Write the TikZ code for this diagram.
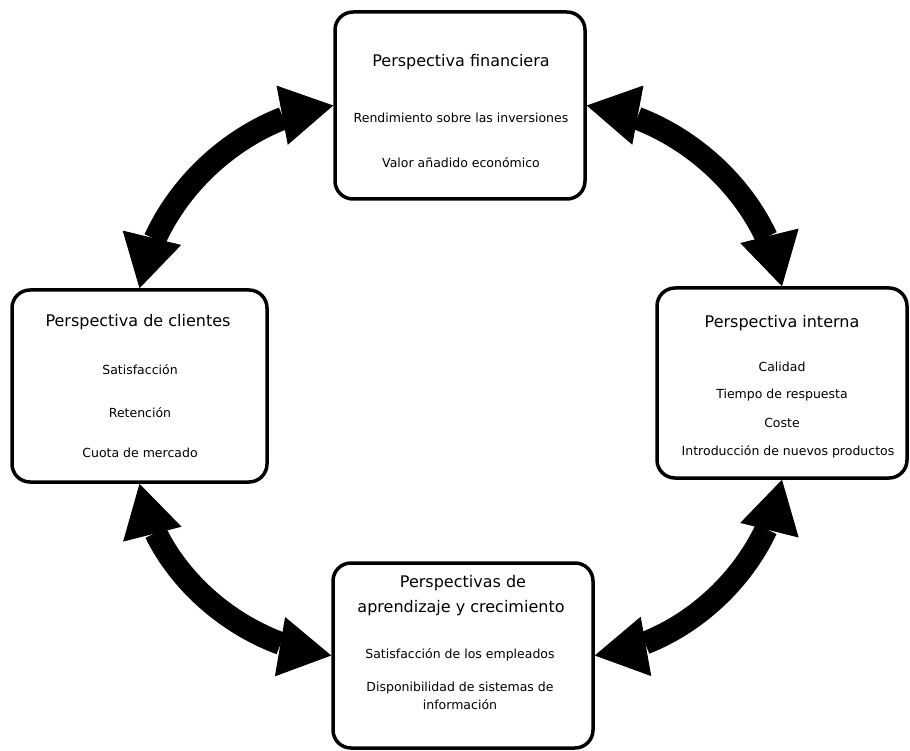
\documentclass[tikz,border=0pt]{standalone}
\usepackage{fontspec}
\setmainfont{DejaVu Sans}
\usetikzlibrary{arrows.meta,bending}
\begin{document}
\begin{tikzpicture}[x=1pt,y=1pt,
  panel/.style={draw=black, line width=3.5pt, rounded corners=18pt, inner sep=0pt, fill=white},
  head/.style={font=\fontsize{16}{19}\selectfont, inner sep=0pt},
  item/.style={font=\fontsize{12.5}{15}\selectfont, inner sep=0pt},
  bigtip/.tip={Triangle[length=52pt,width=60pt,line width=1pt,flex=0.5]},
  link/.style={line width=23pt, bigtip-bigtip, looseness=0.9}
]
\useasboundingbox (0,0) rectangle (910,-751);

% the four perspectives
\node[panel, minimum width=250pt, minimum height=187pt] (fin) at (460,-105.5) {};
\node[panel, minimum width=255pt, minimum height=192pt] (cli) at (139.5,-386) {};
\node[panel, minimum width=250pt, minimum height=190pt] (int) at (782,-383) {};
\node[panel, minimum width=260pt, minimum height=185pt] (apr) at (463,-655.5) {};

% financial perspective
\node[head] (finT) at (461,-62) {Perspectiva financiera};
\node[item] (finA) at (461,-118) {Rendimiento sobre las inversiones};
\node[item] (finB) at (461,-163) {Valor añadido económico};

% customer perspective
\node[head] (cliT) at (138,-322) {Perspectiva de clientes};
\node[item] (cliA) at (140,-370) {Satisfacción};
\node[item] (cliB) at (140,-413) {Retención};
\node[item] (cliC) at (140,-453) {Cuota de mercado};

% internal perspective
\node[head] (intT) at (782,-323) {Perspectiva interna};
\node[item] (intA) at (782,-367) {Calidad};
\node[item] (intB) at (782,-395) {Tiempo de respuesta};
\node[item] (intC) at (782,-423) {Coste};
\node[item] (intD) at (788,-452) {Introducción de nuevos productos};

% learning and growth perspective
\node[head] (aprT) at (463,-583) {Perspectivas de};
\node[head] (aprU) at (461,-608) {aprendizaje y crecimiento};
\node[item] (aprA) at (460,-655) {Satisfacción de los empleados};
\node[item] (aprB) at (460,-688) {Disponibilidad de sistemas de};
\node[item] (aprC) at (460,-705) {información};

% curved two-way links
\draw[link] (fin.west)  to[out=187, in=80]  (cli.north);
\draw[link] (fin.east)  to[out=-7,  in=100] (int.north);
\draw[link] (cli.south) to[out=280, in=174] (apr.west);
\draw[link] (int.south) to[out=260, in=6]   (apr.east);
\end{tikzpicture}
\end{document}
